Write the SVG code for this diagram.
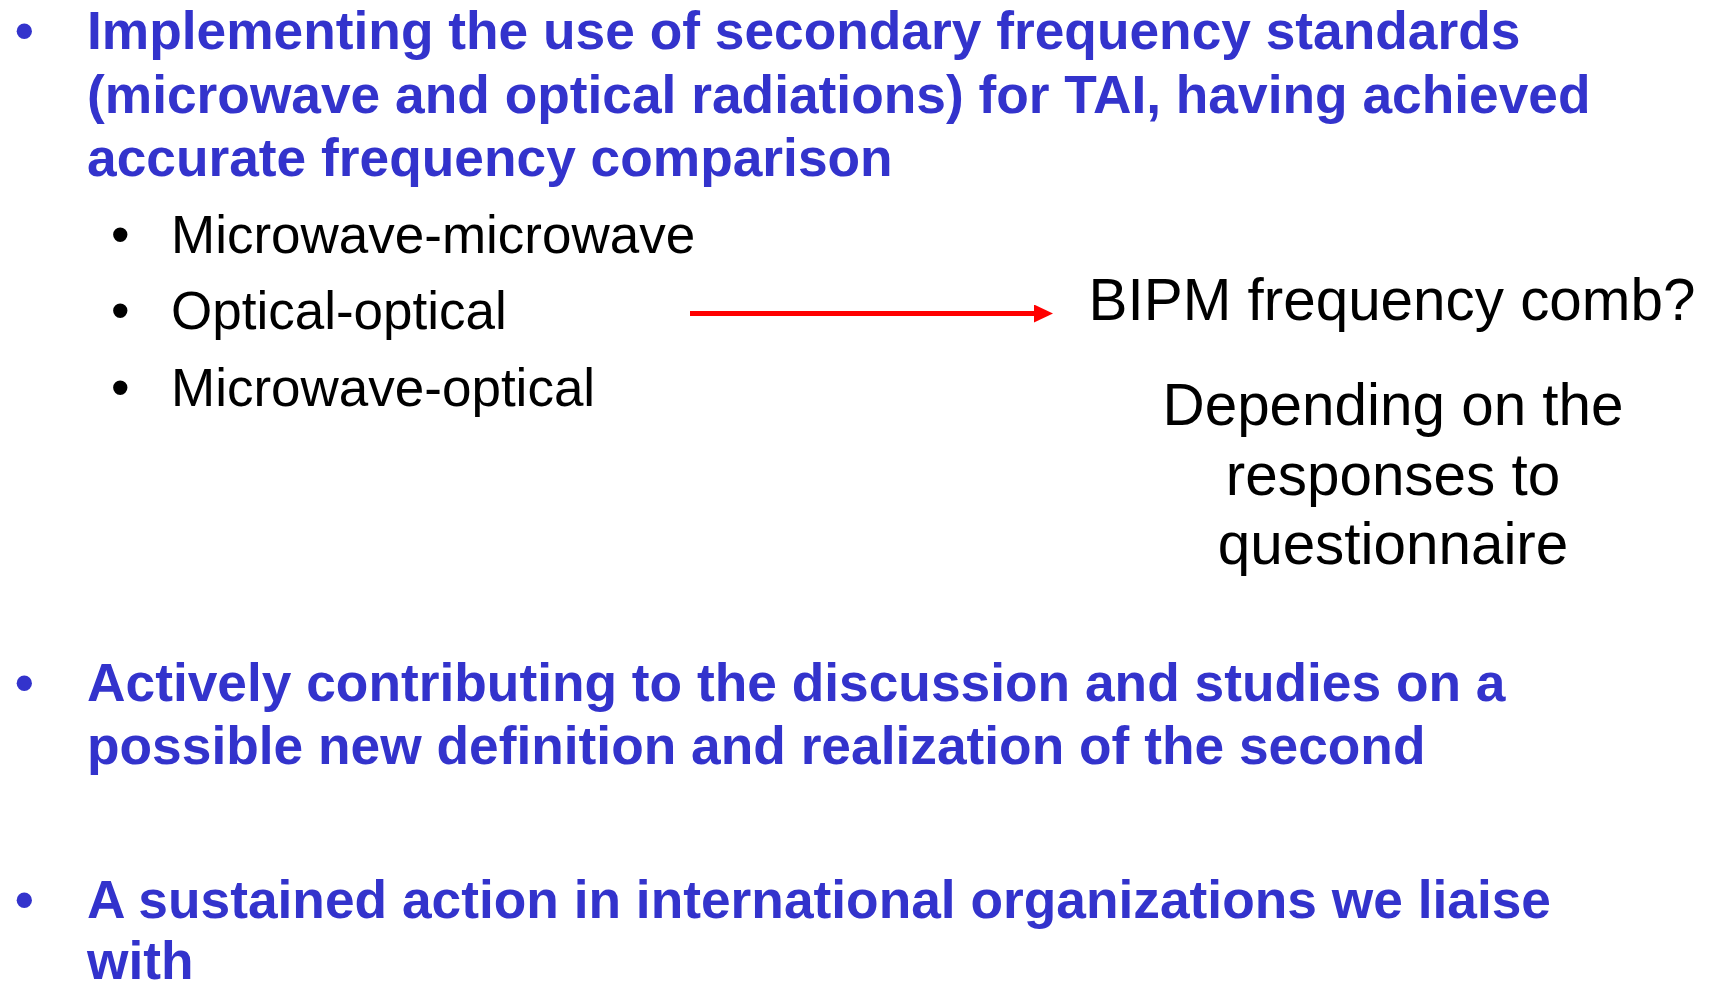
<svg xmlns="http://www.w3.org/2000/svg" width="1715" height="983" viewBox="0 0 1715 983">
<style>
.b{font-family:"Liberation Sans",Arial,sans-serif;font-weight:bold;font-size:53.3px;fill:#3333cc}
.s{font-family:"Liberation Sans",Arial,sans-serif;font-size:53px;fill:#000}
.r{font-family:"Liberation Sans",Arial,sans-serif;font-size:58.4px;fill:#000;text-anchor:middle}
</style>
<defs>
<marker id="ah" markerWidth="19" markerHeight="18" refX="0" refY="9" orient="auto" markerUnits="userSpaceOnUse">
<path d="M0,0 L19,9 L0,18 Z" fill="#ff0000"/>
</marker>
</defs>
<rect width="1715" height="983" fill="#fff"/>
<g id="bullet1">
<text class="b" x="15" y="49">•</text>
<text class="b" x="87" y="49">Implementing the use of secondary frequency standards</text>
<text class="b" x="87" y="112.5">(microwave and optical radiations) for TAI, having achieved</text>
<text class="b" x="87" y="176">accurate frequency comparison</text>
</g>
<g id="sub1">
<text class="s" x="111" y="253">•</text>
<text class="s" x="171" y="253">Microwave-microwave</text>
</g>
<g id="sub2">
<text class="s" x="111" y="329">•</text>
<text class="s" x="171" y="329">Optical-optical</text>
</g>
<g id="sub3">
<text class="s" x="111" y="406">•</text>
<text class="s" x="171" y="406">Microwave-optical</text>
</g>
<g id="comb">
<text class="r" x="1392" y="320">BIPM frequency comb?</text>
</g>
<g id="depending">
<text class="r" x="1393" y="425">Depending on the</text>
<text class="r" x="1393" y="495">responses to</text>
<text class="r" x="1393" y="564">questionnaire</text>
</g>
<g id="connectors">
<line x1="690" y1="313.5" x2="1034" y2="313.5" stroke="#ff0000" stroke-width="5" marker-end="url(#ah)"/>
</g>
<g id="bullet2">
<text class="b" x="15" y="701">•</text>
<text class="b" x="87" y="701">Actively contributing to the discussion and studies on a</text>
<text class="b" x="87" y="764">possible new definition and realization of the second</text>
</g>
<g id="bullet3">
<text class="b" x="15" y="918">•</text>
<text class="b" x="87" y="918">A sustained action in international organizations we liaise</text>
<text class="b" x="87" y="979">with</text>
</g>
</svg>
